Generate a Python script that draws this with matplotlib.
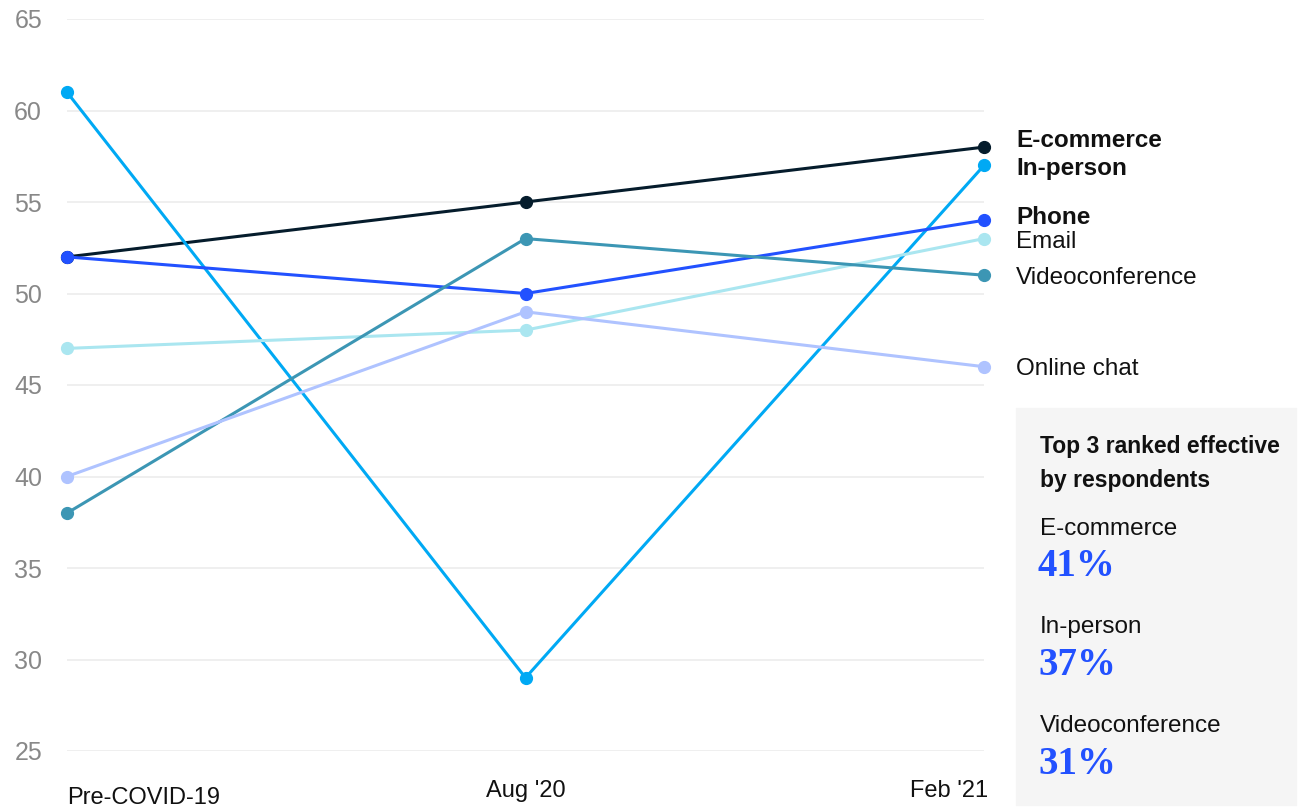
import matplotlib.pyplot as plt
from matplotlib.patches import Rectangle

# data
periods = ["Pre-COVID-19", "Aug '20", "Feb '21"]
channels = ["E-commerce", "In-person", "Phone", "Email", "Videoconference", "Online chat"]
ecommerce = [52, 55, 58]
in_person = [61, 29, 57]
phone = [52, 50, 54]
email = [47, 48, 53]
videoconf = [38, 53, 51]
online_chat = [40, 49, 46]
series = [ecommerce, in_person, phone, email, videoconf, online_chat]
bold_labels = ["E-commerce", "In-person", "Phone"]

top3_names = ["E-commerce", "In-person", "Videoconference"]
top3_pct = ["41%", "37%", "31%"]

# styles
colours = ["#051c2c", "#00a9f4", "#2251ff", "#aae6f0", "#3c96b4", "#afc3ff"]
# draw order (back to front) roughly like the original
draw_order = [5, 3, 4, 2, 0, 1]
# nudges for the end labels so they don't overlap (data units)
label_nudge = [0.35, -0.15, 0.15, -0.2, -0.15, -0.15]

plt.rcParams['font.family'] = ['Liberation Sans', 'DejaVu Sans']
TXT = '#111111'

fig = plt.figure(figsize=(13.01, 8.10), dpi=100)
ax = fig.add_axes([67 / 1301, 59 / 810, 917 / 1301, 732 / 810])

x = list(range(len(periods)))
for i in draw_order:
    ax.plot(x, series[i], color=colours[i], lw=2.2, marker='o', ms=8.5,
            clip_on=False, zorder=3 + i * 0.1)

ax.set_xlim(0, 2)
ax.set_ylim(25, 65)
ax.set_yticks(range(25, 66, 5))
ax.grid(axis='y', color='#ebebeb', lw=1.1)
ax.set_axisbelow(True)
for s in ax.spines.values():
    s.set_visible(False)
ax.tick_params(axis='y', length=0, pad=18, labelsize=18, labelcolor='#888888')
ax.set_xticks([])

# x labels
trans = ax.get_xaxis_transform()
ax.text(0, -0.064, periods[0], transform=trans, ha='left', va='center',
        fontsize=17, color=TXT)
ax.text(1, -0.054, periods[1], transform=trans, ha='center', va='center',
        fontsize=17, color=TXT)
ax.text(2.008, -0.054, periods[2], transform=trans, ha='right', va='center',
        fontsize=17, color=TXT)

# end labels
for i, name in enumerate(channels):
    ax.text(2.07, series[i][-1] + label_nudge[i], name, ha='left', va='center',
            fontsize=17.5, color=TXT,
            fontweight='bold' if name in bold_labels else 'normal', clip_on=False)

# side box
fig.patches.append(Rectangle((1016 / 1301, 5 / 810), 280 / 1301, 397 / 810,
                             transform=fig.transFigure, color='#f5f5f5', zorder=0))
bx = 1040 / 1301
fig.text(bx, 1 - 447 / 810, "Top 3 ranked effective", fontsize=16.5,
         fontweight='bold', va='center', color=TXT)
fig.text(bx, 1 - 480 / 810, "by respondents", fontsize=16.5,
         fontweight='bold', va='center', color=TXT)
for k in range(3):
    ytop = 529 + k * 98.5
    fig.text(bx, 1 - ytop / 810, top3_names[k], fontsize=17.5, va='center',
             color=TXT)
    fig.text(bx - 2 / 1301, 1 - (ytop + 38) / 810, top3_pct[k], fontsize=28,
             fontweight='bold', va='center', color='#2251ff',
             family=['Liberation Serif', 'DejaVu Serif'])

fig.savefig('out.png', dpi=100)
